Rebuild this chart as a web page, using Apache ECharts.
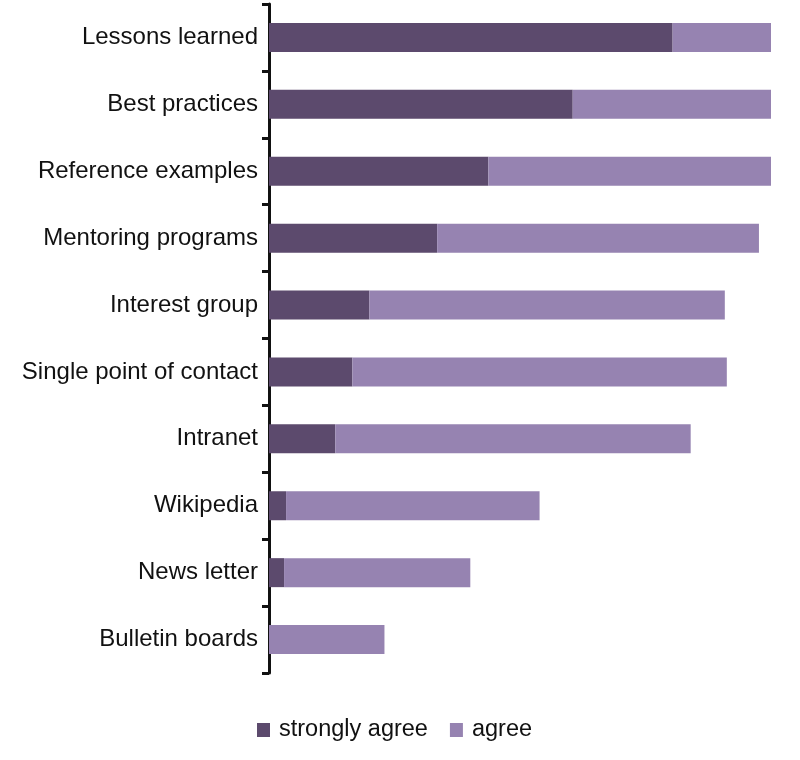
<!DOCTYPE html>
<html>
<head>
<meta charset="utf-8">
<script src="https://cdn.jsdelivr.net/npm/echarts@6/dist/echarts.min.js"></script>
<style>html,body{margin:0;padding:0;background:#fff;}#c{width:800px;height:760px;}</style>
</head>
<body>
<div id="c"></div>
<script>
const categories = ["Lessons learned","Best practices","Reference examples","Mentoring programs","Interest group","Single point of contact","Intranet","Wikipedia","News letter","Bulletin boards"];
const stronglyAgree = [80.4, 60.5, 43.7, 33.5, 20, 16.6, 13.2, 3.4, 3, 0];
const agree = [19.6, 39.5, 56.3, 64.1, 70.8, 74.6, 70.8, 50.5, 37.1, 23];
const seriesNames = ["strongly agree","agree"];

const chart = echarts.init(document.getElementById('c'));
const font = "Liberation Sans, Arial, Helvetica, sans-serif";
chart.setOption({
  animation: false,
  grid: {left: 269, right: 29, top: 4, bottom: 87, containLabel: false},
  legend: {
    data: seriesNames,
    left: 252, top: 713,
    itemWidth: 13, itemHeight: 14, itemGap: 22,
    icon: 'rect',
    textStyle: {fontFamily: font, fontSize: 23.5, color: '#111', padding: [0,0,0,4]}
  },
  xAxis: {type: 'value', min: 0, max: 100, show: false},
  yAxis: {
    type: 'category', data: categories, inverse: true,
    axisLine: {lineStyle: {color: '#111', width: 3}},
    axisTick: {show: true, length: 7, lineStyle: {color: '#111', width: 3}},
    axisLabel: {fontFamily: font, fontSize: 24, color: '#111', margin: 11},
    splitLine: {show: false}
  },
  series: [
    {name: seriesNames[0], type: 'bar', stack: 's', data: stronglyAgree, barWidth: 29,
     itemStyle: {color: '#5c4a6d'}},
    {name: seriesNames[1], type: 'bar', stack: 's', data: agree, barWidth: 29,
     itemStyle: {color: '#9683b1'}}
  ]
});
</script>
</body>
</html>
